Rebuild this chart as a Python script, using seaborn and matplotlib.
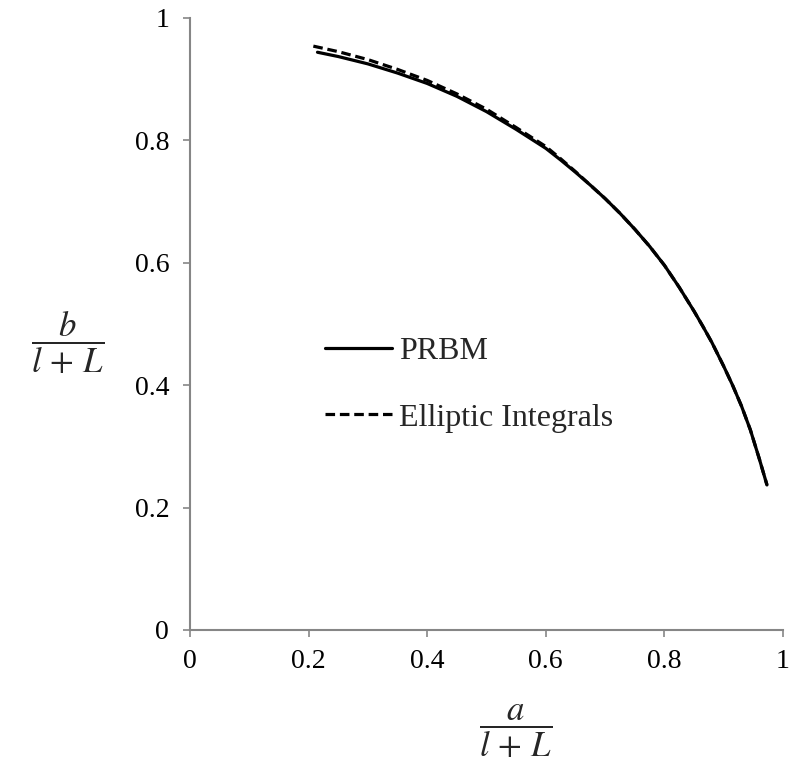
import numpy as np
import pandas as pd
import matplotlib
matplotlib.use('Agg')
import matplotlib.pyplot as plt
import seaborn as sns

# values
prbm_x = [0.215, 0.25, 0.30, 0.35, 0.40, 0.45, 0.50, 0.55, 0.60, 0.625, 0.65, 0.675,
          0.70, 0.725, 0.75, 0.775, 0.80, 0.825, 0.85, 0.865, 0.88, 0.90, 0.915,
          0.93, 0.945, 0.96, 0.973]
prbm_y = [0.944, 0.937, 0.925, 0.910, 0.893, 0.872, 0.847, 0.818, 0.787, 0.768, 0.748, 0.727,
          0.705, 0.681, 0.655, 0.627, 0.596, 0.560, 0.521, 0.496, 0.470, 0.431, 0.400,
          0.366, 0.327, 0.280, 0.237]
ellip_x = [0.208, 0.25, 0.30, 0.35, 0.40, 0.45, 0.50, 0.55, 0.60, 0.625, 0.65, 0.675,
           0.70, 0.725, 0.75, 0.775, 0.80, 0.825, 0.85, 0.865, 0.88, 0.90, 0.915,
           0.93, 0.945, 0.96, 0.973]
ellip_y = [0.954, 0.945, 0.932, 0.916, 0.898, 0.876, 0.851, 0.821, 0.790, 0.770, 0.749, 0.727,
           0.705, 0.681, 0.655, 0.627, 0.596, 0.560, 0.521, 0.496, 0.470, 0.431, 0.400,
           0.366, 0.327, 0.280, 0.237]
ticks = [0, 0.2, 0.4, 0.6, 0.8, 1]

df = pd.concat([
    pd.DataFrame({'x': prbm_x, 'y': prbm_y, 'model': 'PRBM'}),
    pd.DataFrame({'x': ellip_x, 'y': ellip_y, 'model': 'Elliptic Integrals'}),
])

sns.set_theme(style='white')
plt.rcParams['font.family'] = ['Liberation Serif', 'DejaVu Serif']
plt.rcParams['mathtext.fontset'] = 'stix'

fig = plt.figure(figsize=(7.9, 7.65), dpi=100)
ax = fig.add_axes([0.2405, 0.1765, 0.7506, 0.8000])

sns.lineplot(data=df, x='x', y='y', hue='model', style='model',
             palette={'PRBM': 'black', 'Elliptic Integrals': 'black'},
             dashes={'PRBM': '', 'Elliptic Integrals': (3.0, 1.5)},
             sort=False, linewidth=2.3, ax=ax)

ax.set_xlim(0, 1)
ax.set_ylim(0, 1)
ax.set_xticks(ticks)
ax.set_yticks(ticks)
ax.set_xticklabels([f'{t:g}' for t in ticks])
ax.set_yticklabels([f'{t:g}' for t in ticks])
ax.tick_params(axis='both', which='major', labelsize=20, colors='#868686',
               labelcolor='black', direction='out', length=5, width=1.2,
               left=True, bottom=True)
ax.tick_params(axis='x', pad=9)
ax.tick_params(axis='y', pad=10)

for side in ['top', 'right']:
    ax.spines[side].set_visible(False)
for side in ['left', 'bottom']:
    ax.spines[side].set_color('#868686')
    ax.spines[side].set_linewidth(1.5)

ax.set_xlabel(r'$\dfrac{a}{l\,+\,L}$', fontsize=25, va='center')
ax.set_ylabel(r'$\dfrac{b}{l\,+\,L}$', fontsize=25, rotation=0, va='center', ha='center')
ax.xaxis.set_label_coords(0.549, -0.166)
ax.yaxis.set_label_coords(-0.206, 0.469)

ax.legend(title=None, frameon=False, fontsize=23, loc='upper left',
          bbox_to_anchor=(0.228, 0.479), handlelength=2.1, handletextpad=0.2,
          labelspacing=1.16, borderaxespad=0, borderpad=0)

fig.savefig('out.png', dpi=100)
